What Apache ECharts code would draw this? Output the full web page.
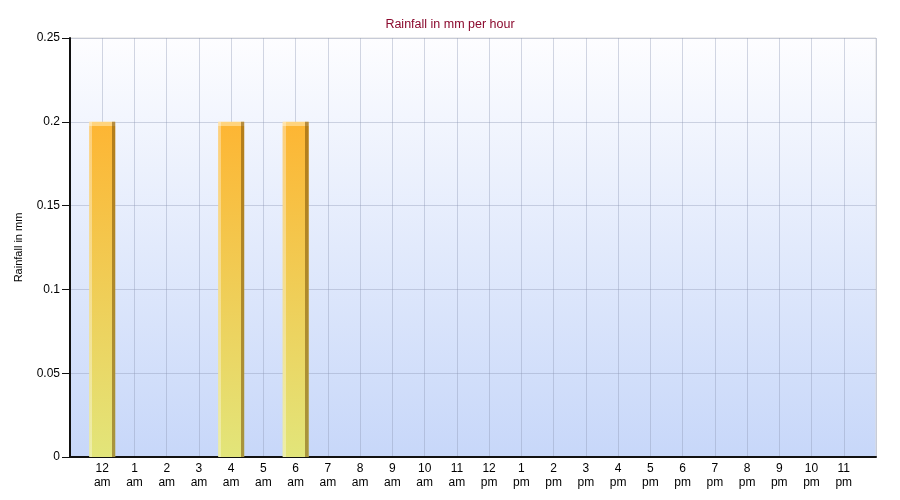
<!DOCTYPE html>
<html>
<head>
<meta charset="utf-8">
<script src="https://cdn.jsdelivr.net/npm/echarts@6/dist/echarts.min.js"></script>
<style>html,body{margin:0;padding:0;background:#fff;}#c{width:900px;height:500px;}</style>
</head>
<body>
<div id="c"></div>
<script>
const hourLabels = ['12 am','1 am','2 am','3 am','4 am','5 am','6 am','7 am','8 am','9 am','10 am','11 am',
                    '12 pm','1 pm','2 pm','3 pm','4 pm','5 pm','6 pm','7 pm','8 pm','9 pm','10 pm','11 pm'];
const rainfall = [0.2,0,0,0,0.2,0,0.2,0,0,0,0,0,0,0,0,0,0,0,0,0,0,0,0,0];
const yTicks = [0,0.05,0.1,0.15,0.2,0.25];

const cats = [''].concat(hourLabels).concat(['']);
const vals = [null].concat(rainfall.map(v => v > 0 ? v : null)).concat([null]);

const chart = echarts.init(document.getElementById('c'), null, {renderer:'canvas'});
chart.setOption({
  animation: false,
  title: {
    text: 'Rainfall in mm per hour', left: 'center', top: 13,
    textStyle: {color: '#8b0a2e', fontSize: 12.5, fontWeight: 'normal', fontFamily: 'Liberation Sans, Arial, sans-serif'}
  },
  grid: {
    left: 70, right: 24, top: 38, bottom: 43, show: true,
    borderColor: '#dcdcdc', borderWidth: 1,
    backgroundColor: new echarts.graphic.LinearGradient(0,0,0,1,[
      {offset:0, color:'#fdfdff'},{offset:1, color:'#c7d7f9'}
    ])
  },
  xAxis: {
    type: 'category', data: cats, boundaryGap: false,
    axisLine: {show: true, lineStyle: {color: '#111', width: 2}},
    axisTick: {show: false},
    axisLabel: {interval: 0, color: '#000', fontSize: 12, lineHeight: 14, margin: 5,
      fontFamily: 'Liberation Sans, Arial, sans-serif',
      formatter: v => v.replace(' ', '\n')},
    splitLine: {show: true, interval: 0, lineStyle: {color: 'rgba(140,150,180,0.38)', width: 1}}
  },
  yAxis: {
    type: 'value', min: yTicks[0], max: yTicks[yTicks.length-1], interval: 0.05,
    name: 'Rainfall in mm', nameLocation: 'middle', nameRotate: 90, nameGap: 46,
    nameTextStyle: {color: '#000', fontSize: 11, fontFamily: 'Liberation Sans, Arial, sans-serif'},
    axisLine: {show: true, lineStyle: {color: '#111', width: 2}},
    axisTick: {show: true, length: 8, lineStyle: {color: '#111', width: 1}},
    axisLabel: {color: '#000', fontSize: 12, margin: 10, fontFamily: 'Liberation Sans, Arial, sans-serif'},
    splitLine: {show: true, lineStyle: {color: 'rgba(140,150,180,0.38)', width: 1}}
  },
  series: [
    {
      type: 'bar', data: vals, barWidth: 26, z: 2,
      itemStyle: {color: new echarts.graphic.LinearGradient(0,0,0,1,[
        {offset:0, color:'#ffd47e'},{offset:0.012, color:'#ffd47e'},
        {offset:0.013, color:'#fdb634'},{offset:1, color:'#e2e57a'}
      ])}
    },
    {
      type: 'bar', data: vals, barWidth: 26, barGap: '-100%', z: 3,
      itemStyle: {color: new echarts.graphic.LinearGradient(0,0,1,0,[
        {offset:0, color:'rgba(255,255,255,0.35)'},{offset:0.12, color:'rgba(255,255,255,0.35)'},
        {offset:0.121, color:'rgba(255,255,255,0)'},{offset:0.87, color:'rgba(255,255,255,0)'},
        {offset:0.871, color:'rgba(110,70,0,0.5)'},{offset:1, color:'rgba(110,70,0,0.5)'}
      ])}
    }
  ]
});
</script>
</body>
</html>
